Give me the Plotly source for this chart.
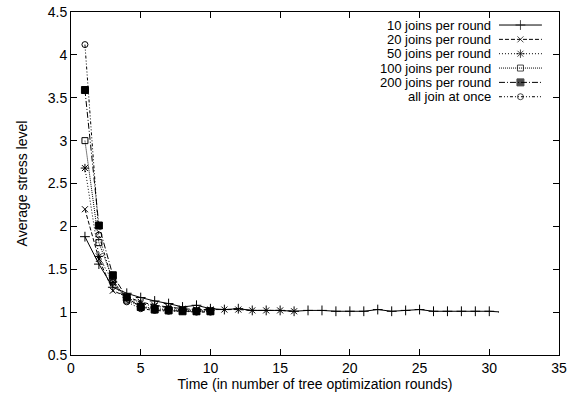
import plotly.graph_objects as go

# ---- data ----
x10 = list(range(1, 32))
y10 = [1.88, 1.56, 1.29, 1.22, 1.17, 1.13, 1.10, 1.06, 1.08, 1.04,
       1.03, 1.04, 1.02, 1.02, 1.02, 1.01, 1.02, 1.02, 1.01, 1.01,
       1.01, 1.03, 1.01, 1.02, 1.03, 1.01, 1.01, 1.01, 1.01, 1.01, 1.00]
x20 = list(range(1, 17))
y20 = [2.20, 1.62, 1.25, 1.18, 1.12, 1.08, 1.06, 1.04, 1.03, 1.03,
       1.03, 1.03, 1.02, 1.02, 1.02, 1.01]
x50 = list(range(1, 11))
y50 = [2.68, 1.65, 1.35, 1.17, 1.10, 1.07, 1.05, 1.03, 1.02, 1.02]
x100 = list(range(1, 11))
y100 = [3.00, 1.81, 1.38, 1.14, 1.07, 1.04, 1.03, 1.02, 1.01, 1.01]
x200 = list(range(1, 11))
y200 = [3.59, 2.01, 1.43, 1.17, 1.06, 1.03, 1.02, 1.01, 1.01, 1.01]
xall = list(range(1, 11))
yall = [4.12, 1.90, 1.35, 1.12, 1.04, 1.02, 1.01, 1.01, 1.00, 1.00]

series_names = ["10 joins per round", "20 joins per round", "50 joins per round",
                "100 joins per round", "200 joins per round", "all join at once"]
xtick_vals = [0, 5, 10, 15, 20, 25, 30, 35]
ytick_vals = [0.5, 1, 1.5, 2, 2.5, 3, 3.5, 4, 4.5]

styles = [
    dict(dash="solid", symbol="cross-thin", size=7),
    dict(dash="4px,2px", symbol="x-thin", size=6),
    dict(dash="1px,2px", symbol="asterisk", size=7),
    dict(dash="1px,1px", symbol="square-open", size=6),
    dict(dash="6px,2px,1px,2px", symbol="square", size=7),
    dict(dash="3px,2px,1px,2px,1px,2px", symbol="circle-open", size=6),
]
data = [(x10, y10), (x20, y20), (x50, y50), (x100, y100), (x200, y200), (xall, yall)]

FONT = "Liberation Sans, Arial, sans-serif"
FS = 14
LFS = 13
fig = go.Figure()

for (xs, ys), st, name in zip(data, styles, series_names):
    fig.add_trace(go.Scatter(
        x=xs, y=ys, mode="lines+markers", name=name, showlegend=False,
        line=dict(color="black", width=1, dash=st["dash"]),
        marker=dict(symbol=st["symbol"], size=st["size"], color="black",
                    line=dict(color="black", width=1)),
    ))

# ---- custom gnuplot-style legend (text then sample) ----
row_top = 0.962
row_step = 0.0418
annotations = []
for i, (st, name) in enumerate(zip(styles, series_names)):
    ry = row_top - i * row_step
    annotations.append(dict(x=0.8627, y=ry, xref="paper", yref="paper",
                            text=name, showarrow=False, xanchor="right",
                            yanchor="middle", borderpad=0,
                            font=dict(family=FONT, size=LFS, color="black")))
    fig.add_trace(go.Scatter(
        x=[0, 0.5, 1], y=[ry, ry, ry], xaxis="x2", yaxis="y2",
        mode="lines+markers", showlegend=False, hoverinfo="skip",
        line=dict(color="black", width=1, dash=st["dash"]),
        marker=dict(symbol=st["symbol"], size=[0, st["size"], 0], color="black",
                    line=dict(color="black", width=1)),
    ))

axis_common = dict(showline=True, linecolor="black", linewidth=1, mirror="allticks",
                   ticks="inside", ticklen=6, tickcolor="black", tickwidth=1,
                   showgrid=False, zeroline=False, automargin=False,
                   tickfont=dict(family=FONT, size=FS, color="black"))

fig.update_layout(
    width=574, height=400,
    margin=dict(l=71, r=15, t=12, b=45, autoexpand=False),
    paper_bgcolor="white", plot_bgcolor="white",
    font=dict(family=FONT, size=FS, color="black"),
    xaxis=dict(range=[0, 35], tickvals=xtick_vals,
               title=dict(text="Time (in number of tree optimization rounds)",
                          font=dict(family=FONT, size=FS), standoff=2),
               **axis_common),
    yaxis=dict(range=[0.5, 4.5], tickvals=ytick_vals,
               title=dict(text="Average stress level",
                          font=dict(family=FONT, size=FS), standoff=16),
               **axis_common),
    xaxis2=dict(domain=[0.877, 0.965], range=[0, 1], visible=False, anchor="y2"),
    yaxis2=dict(domain=[0, 1], range=[0, 1], visible=False, anchor="x2", overlaying="y"),
    annotations=annotations,
    showlegend=False,
)

# remove the page's default 8px body margin so the figure fills the window exactly
fig.write_html("out.html", config={"displayModeBar": False},
               post_script="document.body.style.margin='0';")
